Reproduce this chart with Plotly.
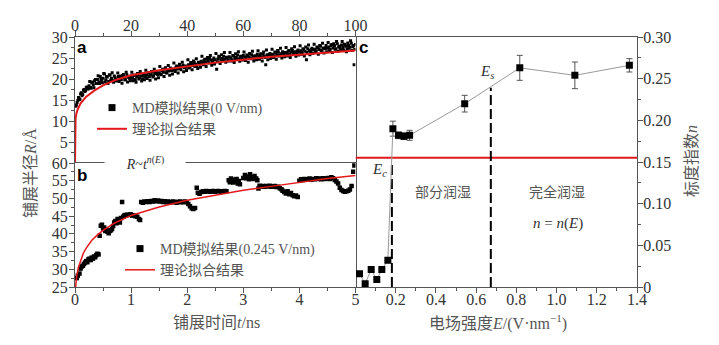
import plotly.graph_objects as go

W, H = 719, 345

# ---------------- panel a : spreading radius, 0 V/nm ----------------
t_a1 = [0.5, 1, 1.5, 2, 2.5, 3, 3.5, 4, 4.5, 5,
        5.5, 6, 6.5, 7, 7.5, 8, 8.5, 9, 9.5, 10,
        10.5, 11, 11.5, 12, 12.5, 13, 13.5, 14, 14.5, 15,
        15.5, 16, 16.5, 17, 17.5, 18, 18.5, 19, 19.5, 20,
        20.5, 21, 21.5, 22, 22.5, 23, 23.5, 24, 24.5, 25,
        25.5, 26, 26.5, 27, 27.5, 28, 28.5, 29, 29.5, 30,
        30.5, 31, 31.5, 32, 32.5, 33, 33.5, 34, 34.5, 35,
        35.5, 36, 36.5, 37, 37.5, 38, 38.5, 39, 39.5, 40,
        40.5, 41, 41.5, 42, 42.5, 43, 43.5, 44, 44.5, 45,
        45.5, 46, 46.5, 47, 47.5, 48, 48.5, 49, 49.5, 50,
        50.5, 51, 51.5, 52, 52.5, 53, 53.5, 54, 54.5, 55,
        55.5, 56, 56.5, 57, 57.5, 58, 58.5, 59, 59.5, 60,
        60.5, 61, 61.5, 62, 62.5, 63, 63.5, 64, 64.5, 65,
        65.5, 66, 66.5, 67, 67.5, 68, 68.5, 69, 69.5, 70,
        70.5, 71, 71.5, 72, 72.5, 73, 73.5, 74, 74.5, 75,
        75.5, 76, 76.5, 77, 77.5, 78, 78.5, 79, 79.5, 80,
        80.5, 81, 81.5, 82, 82.5, 83, 83.5, 84, 84.5, 85,
        85.5, 86, 86.5, 87, 87.5, 88, 88.5, 89, 89.5, 90,
        90.5, 91, 91.5, 92, 92.5, 93, 93.5, 94, 94.5, 95,
        95.5, 96, 96.5, 97, 97.5, 98, 98.5, 99, 99.5, 100]
R_a1 = [13.8, 14.9, 15.3, 16.4, 16.0, 17.3, 17.0, 17.9, 17.6, 18.4,
        18.0, 19.1, 18.6, 19.6, 18.9, 19.9, 19.3, 20.6, 19.5, 20.2,
        21.2, 19.8, 20.5, 19.4, 20.9, 20.1, 19.6, 20.7, 20.0, 19.7,
        20.6, 20.2, 19.9, 20.8, 20.3, 19.8, 21.0, 20.4, 20.1, 20.7,
        20.2, 20.9, 19.9, 20.6, 21.1, 20.3, 20.8, 20.0, 21.2, 20.5,
        20.9, 21.4, 20.6, 21.0, 21.6, 20.8, 21.3, 21.8, 21.1, 21.5,
        21.2, 22.0, 21.6, 22.3, 21.5, 22.1, 21.9, 22.6, 22.0, 22.4,
        22.1, 22.8, 22.4, 23.0, 22.5, 22.9, 23.3, 22.7, 23.1, 22.8,
        23.4, 23.0, 23.7, 23.2, 23.9, 23.5, 23.1, 24.0, 23.6, 24.2,
        23.8, 24.4, 24.0, 24.7, 24.3, 24.9, 24.5, 24.1, 25.0, 24.6,
        22.3, 24.8, 25.2, 24.5, 24.9, 25.4, 24.7, 25.1, 24.6, 25.3,
        25.0, 24.6, 25.5, 24.9, 25.2, 25.7, 24.8, 25.3, 25.1, 25.6,
        25.2, 24.9, 25.6, 25.3, 25.0, 25.8, 25.4, 24.7, 25.5, 25.9,
        25.3, 25.7, 25.1, 25.9, 25.5, 23.4, 25.8, 25.4, 26.1, 25.6,
        25.9, 25.5, 26.2, 25.8, 26.4, 25.7, 26.0, 26.5, 25.9, 26.3,
        26.1, 26.6, 25.9, 26.4, 26.8, 26.2, 26.5, 26.0, 26.9, 26.4,
        26.7, 26.3, 27.0, 26.6, 24.6, 27.2, 26.8, 26.5, 27.3, 26.9,
        27.1, 26.7, 27.5, 27.0, 27.8, 26.9, 27.4, 27.2, 28.0, 27.3,
        27.6, 27.1, 28.2, 27.4, 27.9, 27.2, 28.4, 27.6, 27.3, 28.1,
        27.5, 28.3, 27.8, 27.2, 28.0, 27.6, 28.5, 27.7, 23.4, 28.2]
t_a2 = [0.25, 0.75, 1.25, 1.75, 2.25, 2.75, 3.25, 3.75, 4.25, 4.75,
        5.25, 5.75, 6.25, 6.75, 7.25, 7.75, 8.25, 8.75, 9.25, 9.75,
        10.25, 10.75, 11.25, 11.75, 12.25, 12.75, 13.25, 13.75, 14.25, 14.75,
        15.25, 15.75, 16.25, 16.75, 17.25, 17.75, 18.25, 18.75, 19.25, 19.75,
        20.25, 20.75, 21.25, 21.75, 22.25, 22.75, 23.25, 23.75, 24.25, 24.75,
        25.25, 25.75, 26.25, 26.75, 27.25, 27.75, 28.25, 28.75, 29.25, 29.75,
        30.25, 30.75, 31.25, 31.75, 32.25, 32.75, 33.25, 33.75, 34.25, 34.75,
        35.25, 35.75, 36.25, 36.75, 37.25, 37.75, 38.25, 38.75, 39.25, 39.75,
        40.25, 40.75, 41.25, 41.75, 42.25, 42.75, 43.25, 43.75, 44.25, 44.75,
        45.25, 45.75, 46.25, 46.75, 47.25, 47.75, 48.25, 48.75, 49.25, 49.75,
        50.25, 50.75, 51.25, 51.75, 52.25, 52.75, 53.25, 53.75, 54.25, 54.75,
        55.25, 55.75, 56.25, 56.75, 57.25, 57.75, 58.25, 58.75, 59.25, 59.75,
        60.25, 60.75, 61.25, 61.75, 62.25, 62.75, 63.25, 63.75, 64.25, 64.75,
        65.25, 65.75, 66.25, 66.75, 67.25, 67.75, 68.25, 68.75, 69.25, 69.75,
        70.25, 70.75, 71.25, 71.75, 72.25, 72.75, 73.25, 73.75, 74.25, 74.75,
        75.25, 75.75, 76.25, 76.75, 77.25, 77.75, 78.25, 78.75, 79.25, 79.75,
        80.25, 80.75, 81.25, 81.75, 82.25, 82.75, 83.25, 83.75, 84.25, 84.75,
        85.25, 85.75, 86.25, 86.75, 87.25, 87.75, 88.25, 88.75, 89.25, 89.75,
        90.25, 90.75, 91.25, 91.75, 92.25, 92.75, 93.25, 93.75, 94.25, 94.75,
        95.25, 95.75, 96.25, 96.75, 97.25, 97.75, 98.25, 98.75, 99.25, 99.75]
R_a2 = [13.5, 14.4, 15.6, 15.1, 16.7, 16.3, 17.5, 17.2, 18.1, 17.7,
        19.4, 17.8, 19.3, 17.9, 19.9, 18.9, 20.8, 18.9, 20.0, 19.1,
        21.3, 19.3, 20.6, 18.9, 21.0, 19.7, 21.5, 19.2, 20.4, 19.5,
        21.4, 19.4, 20.7, 19.0, 21.1, 19.8, 21.6, 19.3, 20.5, 19.6,
        21.6, 19.6, 20.9, 19.2, 21.3, 20.0, 21.8, 19.5, 20.7, 19.8,
        22.1, 20.1, 21.4, 19.7, 21.8, 20.5, 22.3, 20.0, 21.2, 20.3,
        23.0, 21.0, 22.3, 20.6, 22.7, 21.4, 23.2, 20.9, 22.1, 21.2,
        23.8, 21.8, 23.1, 21.4, 23.5, 22.2, 24.0, 21.7, 22.9, 22.0,
        24.6, 22.6, 23.9, 22.2, 24.3, 23.0, 24.8, 22.5, 23.7, 22.8,
        25.4, 23.4, 24.7, 23.0, 25.1, 23.8, 25.6, 23.3, 24.5, 23.6,
        26.1, 24.1, 25.4, 23.7, 25.8, 24.5, 26.3, 24.0, 25.2, 24.3,
        26.3, 24.3, 25.6, 23.9, 26.0, 24.7, 26.5, 24.2, 25.4, 24.5,
        26.4, 24.4, 25.7, 24.0, 26.1, 24.8, 26.6, 24.3, 25.5, 24.6,
        26.7, 24.7, 26.0, 24.3, 26.4, 25.1, 26.9, 24.6, 25.8, 24.9,
        27.1, 25.1, 26.4, 24.7, 26.8, 25.5, 27.3, 25.0, 26.2, 25.3,
        27.5, 25.5, 26.8, 25.1, 27.2, 25.9, 27.7, 25.4, 26.6, 25.7,
        27.9, 25.9, 27.2, 25.5, 27.6, 26.3, 28.1, 25.8, 27.0, 26.1,
        28.3, 26.3, 27.6, 25.9, 28.0, 26.7, 28.5, 26.2, 27.4, 26.5,
        28.7, 26.7, 28.0, 26.3, 28.4, 27.1, 28.9, 26.6, 27.8, 26.9,
        28.9, 26.9, 28.2, 26.5, 28.6, 27.3, 29.1, 26.8, 28.0, 27.1]
fit_t_a = [0.0, 0.05, 0.2, 0.5, 1, 2, 4, 7, 10, 15, 20, 30, 40, 50, 60, 70, 80, 90, 100]
fit_R_a = [0.0, 8.0, 10.5, 11.8, 12.8, 14.2, 15.8, 17.3, 18.5, 19.9, 20.9, 22.1, 23.0, 23.9,
           24.6, 25.3, 25.8, 26.3, 26.8]

# ---------------- panel b : spreading radius, 0.245 V/nm ----------------
t_b = [0.03, 0.05, 0.08, 0.10, 0.12, 0.14, 0.16, 0.18, 0.20, 0.22, 0.24, 0.26, 0.28, 0.30, 0.32,
       0.34, 0.36, 0.38, 0.40, 0.42,
       0.44, 0.46, 0.48, 0.50, 0.52, 0.54, 0.56, 0.58, 0.60, 0.62, 0.64, 0.66, 0.68, 0.70, 0.72,
       0.74, 0.76, 0.78, 0.80, 0.82, 0.84, 0.86, 0.88, 0.90, 0.93, 0.96, 0.99, 1.02, 1.05, 1.08,
       1.11, 1.14, 1.16,
       1.18, 1.21, 1.24, 1.27, 1.30, 1.33, 1.36, 1.39, 1.42, 1.45, 1.48, 1.51, 1.54, 1.57, 1.60,
       1.63, 1.66, 1.69, 1.72, 1.75, 1.78, 1.81, 1.84, 1.87, 1.90, 1.93, 1.96, 1.99, 2.02, 2.05,
       2.08, 2.11, 2.14,
       2.17, 2.19, 2.22, 2.25, 2.28, 2.31, 2.34, 2.37, 2.40, 2.43, 2.46, 2.49, 2.52, 2.55, 2.58,
       2.61, 2.64, 2.67, 2.70,
       2.74, 2.76, 2.78, 2.80, 2.82, 2.84, 2.86, 2.88, 2.90, 2.92, 2.94,
       3.00, 3.03, 3.05, 3.08, 3.10, 3.12, 3.15, 3.18, 3.20, 3.23, 3.25,
       3.27, 3.29, 3.32, 3.35, 3.38, 3.41, 3.44, 3.47, 3.50, 3.53, 3.56, 3.59, 3.62, 3.65, 3.68,
       3.70, 3.73, 3.76, 3.79, 3.82, 3.85, 3.88, 3.91, 3.94, 3.97,
       4.00, 4.03, 4.06, 4.09, 4.12, 4.15, 4.18, 4.21, 4.24, 4.27, 4.30, 4.33, 4.36, 4.39, 4.42,
       4.45, 4.48, 4.51, 4.54, 4.57, 4.60, 4.63, 4.66, 4.69,
       4.72, 4.75, 4.78, 4.81, 4.84, 4.87, 4.90, 4.93, 4.96, 4.98]
R_b = [27.5, 28.2, 28.8, 30.2, 30.8, 31.0, 31.5, 31.9, 32.3, 32.0, 32.8, 33.0, 32.6, 33.3, 33.0,
       33.6, 33.4, 34.0, 34.4, 34.2,
       39.5, 42.3, 42.6, 41.5, 41.8, 40.8, 41.2, 40.6, 40.2, 40.8, 41.0, 41.4, 42.2, 43.2, 43.6,
       43.0, 44.2, 43.8, 43.2, 44.5, 49.0, 44.8, 45.2, 45.3, 45.4, 45.3, 45.5, 45.2, 45.2, 45.0,
       44.8, 44.2, 43.9,
       49.0, 48.8, 49.1, 49.0, 49.2, 49.0, 49.3, 49.1, 49.5, 49.2, 49.4, 49.1, 49.3, 49.0, 49.2,
       48.9, 49.1, 49.0, 48.9, 49.1, 49.0, 48.8, 49.0, 49.1, 48.9, 49.0, 49.1, 48.9, 48.4, 47.8,
       47.2, 47.0, 47.3,
       53.0, 51.6, 51.3, 51.8, 52.0, 51.9, 52.1, 52.0, 51.9, 52.0, 52.1, 51.9, 52.0, 52.1, 52.0,
       51.9, 52.0, 52.1, 52.0,
       55.1, 54.6, 55.6, 55.2, 54.5, 55.3, 54.8, 55.5, 54.2, 54.9, 54.0,
       55.8, 56.6, 55.7, 56.2, 55.4, 56.8, 56.0, 55.5, 56.3, 55.6, 55.1,
       52.8, 53.6, 53.4, 53.5, 53.3, 53.5, 53.4, 53.6, 53.3, 53.4, 53.5, 53.2, 53.3, 52.9, 52.6,
       52.2, 51.8, 51.4, 52.0, 51.2, 51.5, 50.9, 50.6, 50.8, 50.4,
       55.0, 55.4, 55.2, 55.5, 55.3, 55.4, 55.6, 55.3, 55.5, 55.4, 55.7, 55.5, 55.6, 55.4, 55.7,
       55.5, 55.6, 55.8, 55.5, 56.0, 55.7, 55.2, 54.8, 54.2,
       53.0, 52.4, 52.1, 51.9, 52.0, 52.2, 52.5, 53.5, 57.5, 59.3]
fit_t_b = [0.01, 0.03, 0.06, 0.1, 0.15, 0.2, 0.3, 0.4, 0.5, 0.7, 1.0, 1.5, 2.0, 2.5, 3.0, 3.5,
           4.0, 4.5, 5.0]
fit_R_b = [24.8, 28.0, 30.5, 32.6, 34.6, 36.0, 38.2, 39.7, 41.0, 43.0, 45.2, 47.6, 49.5, 50.9,
           52.3, 53.4, 54.6, 55.6, 56.5]

# ---------------- panel c : scaling exponent vs field ----------------
E_field = [0.020, 0.048, 0.078, 0.106, 0.131, 0.161, 0.186, 0.214, 0.241, 0.269, 0.543, 0.817,
           1.091, 1.362]
n_exp = [0.016, 0.004, 0.021, 0.009, 0.021, 0.032, 0.190, 0.182, 0.181, 0.182, 0.220, 0.263,
         0.254, 0.266]
n_err = [0, 0, 0, 0, 0, 0, 0.009, 0.004, 0.004, 0.006, 0.010, 0.015, 0.016, 0.008]
E_c = 0.181
E_s = 0.673
n_at_Ec_line_top = 0.150
n_at_Es = 0.239
n_line = 0.155
E_span = [0.0, 1.4]

SERIF = "Liberation Serif, Noto Sans CJK SC, serif"
TXT = "#333"
GRAY = "#555"
RED = "#e3191c"
AX = "#555"

xa_dom = [75 / W, 355.5 / W]
ya_dom = [1 - 163 / H, 1 - 37 / H]
yb_dom = [1 - 287 / H, 1 - 163 / H]
xc_dom = [355.5 / W, 637 / W]
yc_dom = [1 - 287 / H, 1 - 37 / H]

fig = go.Figure()

# panel a
fig.add_trace(go.Scatter(x=t_a1 + t_a2, y=R_a1 + R_a2, mode="markers", xaxis="x", yaxis="y",
                         marker=dict(symbol="square", size=3, color="black"), showlegend=False))
fig.add_trace(go.Scatter(x=[None], y=[None], mode="markers", xaxis="x", yaxis="y",
                         marker=dict(symbol="square", size=7, color="black"),
                         name="MD模拟结果(0 V/nm)", legend="legend"))
fig.add_trace(go.Scatter(x=fit_t_a, y=fit_R_a, mode="lines", xaxis="x", yaxis="y",
                         line=dict(color=RED, width=2), name="理论拟合结果", legend="legend"))

# panel b
fig.add_trace(go.Scatter(x=t_b, y=R_b, mode="markers", xaxis="x2", yaxis="y2",
                         marker=dict(symbol="square", size=4.5, color="black"), showlegend=False))
fig.add_trace(go.Scatter(x=[None], y=[None], mode="markers", xaxis="x2", yaxis="y2",
                         marker=dict(symbol="square", size=7, color="black"),
                         name="MD模拟结果(0.245 V/nm)", legend="legend2"))
fig.add_trace(go.Scatter(x=fit_t_b, y=fit_R_b, mode="lines", xaxis="x2", yaxis="y2",
                         line=dict(color=RED, width=1.5), name="理论拟合结果", legend="legend2"))

# panel c
fig.add_trace(go.Scatter(x=E_span, y=[n_line, n_line], mode="lines", xaxis="x3", yaxis="y3",
                         line=dict(color=RED, width=2), showlegend=False))
fig.add_trace(go.Scatter(x=[E_c, E_c], y=[0, n_at_Ec_line_top], mode="lines", xaxis="x3", yaxis="y3",
                         line=dict(color="black", width=2, dash="10px,4px"), showlegend=False))
fig.add_trace(go.Scatter(x=[E_s, E_s], y=[0, n_at_Es], mode="lines", xaxis="x3", yaxis="y3",
                         line=dict(color="black", width=2, dash="10px,4px"), showlegend=False))
fig.add_trace(go.Scatter(x=E_field, y=n_exp, mode="lines+markers", xaxis="x3", yaxis="y3",
                         line=dict(color="#999", width=1),
                         marker=dict(symbol="square", size=7, color="black"),
                         error_y=dict(type="data", array=n_err, color="#555", thickness=1, width=3),
                         showlegend=False))

tickfont = dict(family=SERIF, size=16, color=TXT)
common = dict(showline=True, linecolor=AX, linewidth=1.2, showgrid=False,
              zeroline=False, ticks="outside", ticklen=5, tickwidth=1, tickcolor=AX,
              tickfont=tickfont, automargin=False)

def minor(d):
    return dict(dtick=d, tick0=0, ticks="outside", ticklen=3, tickcolor=AX)

fig.update_layout(
    width=W, height=H,
    margin=dict(l=0, r=0, t=0, b=0),
    paper_bgcolor="white", plot_bgcolor="rgba(0,0,0,0)",
    xaxis=dict(domain=xa_dom, anchor="y", side="top", range=[0, 100], mirror=False,
               tickvals=[0, 20, 40, 60, 80, 100], ticklabelstandoff=-6,
               minor=minor(10), **common),
    yaxis=dict(domain=ya_dom, anchor="x", range=[0, 30], mirror=True,
               tickvals=[5, 10, 15, 20, 25, 30], ticklabelstandoff=-2,
               minor=minor(2.5), **common),
    xaxis2=dict(domain=xa_dom, anchor="y2", range=[0, 5], mirror=True,
                tickvals=[0, 1, 2, 3, 4, 5], ticklabelstandoff=-7,
                minor=minor(0.5), **common),
    yaxis2=dict(domain=yb_dom, anchor="x2", range=[25, 60], mirror=True,
                tickvals=[25, 30, 35, 40, 45, 50, 55, 60], ticklabelstandoff=-2,
                minor=minor(2.5), **common),
    xaxis3=dict(domain=xc_dom, anchor="y3", range=[0, 1.4], mirror=True,
                tickvals=[0.2, 0.4, 0.6, 0.8, 1.0, 1.2, 1.4], tickformat=".1f",
                ticklabelstandoff=-7, minor=minor(0.1), **common),
    yaxis3=dict(domain=yc_dom, anchor="x3", side="right", range=[0, 0.30], mirror=False,
                tickvals=[0, 0.05, 0.10, 0.15, 0.20, 0.25, 0.30],
                ticktext=["0", "0.05", "0.10", "0.15", "0.20", "0.25", "0.30"],
                ticklabelstandoff=-3, minor=minor(0.025), **common),
    legend=dict(x=92 / W, y=1 - 92 / H, xanchor="left", yanchor="top",
                bgcolor="rgba(0,0,0,0)", font=dict(family=SERIF, size=14, color=GRAY),
                tracegroupgap=0),
    legend2=dict(x=120 / W, y=1 - 233 / H, xanchor="left", yanchor="top",
                 bgcolor="rgba(0,0,0,0)", font=dict(family=SERIF, size=14, color=GRAY),
                 tracegroupgap=0),
)

def px(xp, yp):
    return xp / W, 1 - yp / H

ann = []
def add_paper(text, xp, yp, size=16, color=TXT, family=SERIF, angle=0, **kw):
    x, y = px(xp, yp)
    ann.append(dict(text=text, x=x, y=y, xref="paper", yref="paper", showarrow=False,
                    xanchor="center", yanchor="middle", textangle=angle,
                    font=dict(family=family, size=size, color=color), **kw))

SANS_B = "Liberation Sans, Arial, sans-serif"
add_paper("<b>a</b>", 82, 47, size=17, color="black", family=SANS_B)
add_paper("<b>b</b>", 82, 175, size=17, color="black", family=SANS_B)
add_paper("<b>c</b>", 363, 47, size=17, color="black", family=SANS_B)
add_paper("<i>R</i>~<i>t</i><sup><i>n</i>(<i>E</i>)</sup>", 145, 163, size=14, color=TXT,
          bgcolor="white", width=78, height=16)
add_paper("铺展半径<i>R</i>/Å", 30, 173, size=16, color=GRAY, angle=-90)
add_paper("标度指数<i>n</i>", 691, 161, size=16, color=GRAY, angle=-90)
add_paper("铺展时间<i>t</i>/ns", 216, 322, size=16, color=GRAY)
add_paper("电场强度<i>E</i>/(V·nm<sup>−1</sup>)", 498, 322, size=16, color=GRAY)

def add_c(text, x, y, size=15, color=TXT):
    ann.append(dict(text=text, x=x, y=y, xref="x3", yref="y3", showarrow=False,
                    xanchor="center", yanchor="middle",
                    font=dict(family=SERIF, size=size, color=color)))

add_c("<i>E</i><sub><i>c</i></sub>", 0.12, 0.140)
add_c("<i>E</i><sub><i>s</i></sub>", 0.653, 0.258)
add_c("部分润湿", 0.433, 0.114, size=14, color=GRAY)
add_c("完全润湿", 1.0, 0.114, size=14, color=GRAY)
add_c("<i>n</i> = <i>n</i>(<i>E</i>)", 1.006, 0.076, size=15)

fig.update_layout(annotations=ann)
fig.write_html("out.html", config={"displayModeBar": False},
               post_script="document.body.style.margin='0';document.body.style.overflow='hidden';")
